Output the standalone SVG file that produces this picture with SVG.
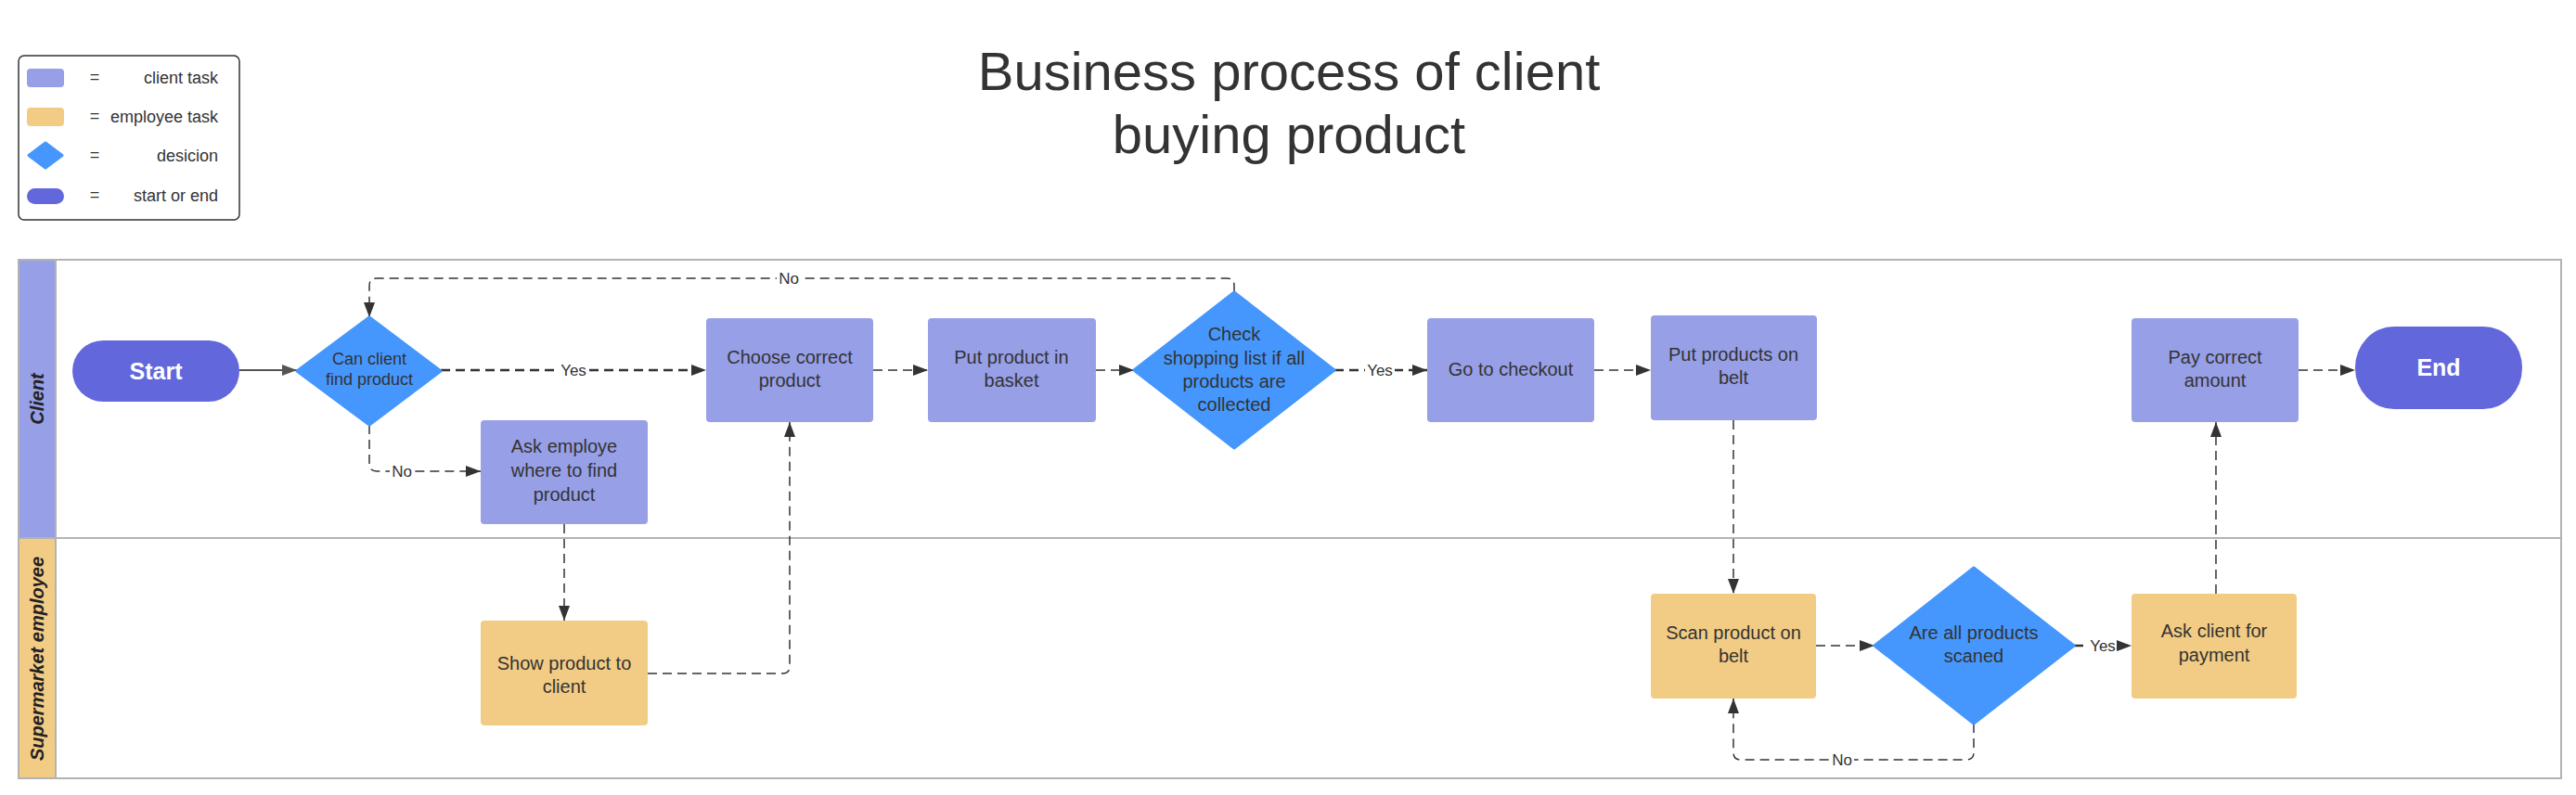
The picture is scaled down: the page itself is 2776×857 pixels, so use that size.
<svg xmlns="http://www.w3.org/2000/svg" width="2776" height="857" viewBox="0 0 2776 857">
<defs>
<style>
.t{font-family:"Liberation Sans",Arial,sans-serif;fill:#333333;}
.n{font-family:"Liberation Sans",Arial,sans-serif;fill:#333333;font-size:20px;text-anchor:middle;}
.n18{font-size:18px;}
.se{font-family:"Liberation Sans",Arial,sans-serif;fill:#ffffff;font-size:25px;font-weight:bold;text-anchor:middle;}
.lane{font-family:"Liberation Sans",Arial,sans-serif;fill:#222222;font-size:20px;font-weight:bold;font-style:italic;text-anchor:middle;}
.lbl{font-family:"Liberation Sans",Arial,sans-serif;fill:#333333;font-size:17px;text-anchor:middle;}
.ct{fill:#979FE7;}
.et{fill:#F2CC85;}
.dc{fill:#4597FD;}
.st{fill:#6268DB;}
.c{fill:none;stroke:#333333;stroke-width:1.5;stroke-dasharray:10 6;}
.cy{fill:none;stroke:#333333;stroke-width:2.5;stroke-dasharray:10 6;}
.solid{fill:none;stroke:#555555;stroke-width:2;}
.lb{fill:#ffffff;}
</style>
<marker id="ah" viewBox="0 0 16 12" refX="16" refY="6" markerWidth="16" markerHeight="12" markerUnits="userSpaceOnUse" orient="auto">
<path d="M0,0 L16,6 L0,12 Z" fill="#333333"/>
</marker>
<marker id="ahs" viewBox="0 0 16 12" refX="16" refY="6" markerWidth="16" markerHeight="12" markerUnits="userSpaceOnUse" orient="auto">
<path d="M0,0 L16,6 L0,12 Z" fill="#555555"/>
</marker>
</defs>
<rect x="0" y="0" width="2776" height="857" fill="#ffffff"/>

<g id="title">
<text class="t" x="1389" y="97" font-size="58" text-anchor="middle">Business process of client</text>
<text class="t" x="1389" y="165" font-size="58" text-anchor="middle">buying product</text>
</g>

<g id="legend">
<rect x="20" y="60" width="238" height="177" rx="6" fill="#ffffff" stroke="#333333" stroke-width="1.5"/>
<rect class="ct" x="29" y="74" width="40" height="20" rx="4"/>
<text class="t" x="102" y="89" font-size="18" text-anchor="middle">=</text>
<text class="t" x="235" y="90" font-size="18" text-anchor="end">client task</text>
<rect class="et" x="29" y="116" width="40" height="20" rx="4"/>
<text class="t" x="102" y="131" font-size="18" text-anchor="middle">=</text>
<text class="t" x="235" y="132" font-size="18" text-anchor="end">employee task</text>
<polygon class="dc" points="49,154 67,167.5 49,181 31,167.5" stroke="#4597FD" stroke-width="3" stroke-linejoin="round"/>
<text class="t" x="102" y="173" font-size="18" text-anchor="middle">=</text>
<text class="t" x="235" y="174" font-size="18" text-anchor="end">desicion</text>
<rect class="st" x="29" y="203" width="40" height="17" rx="8.5"/>
<text class="t" x="102" y="216" font-size="18" text-anchor="middle">=</text>
<text class="t" x="235" y="217" font-size="18" text-anchor="end">start or end</text>
</g>

<g id="lanes">
<rect x="20" y="280" width="2740" height="559" fill="#ffffff" stroke="#B3B3B3" stroke-width="2"/>
<rect x="20" y="280" width="40" height="300" fill="#979FE7" stroke="#B3B3B3" stroke-width="2"/>
<rect x="20" y="580" width="40" height="259" fill="#F2CC85" stroke="#B3B3B3" stroke-width="2"/>
<line x1="20" y1="580" x2="2760" y2="580" stroke="#B3B3B3" stroke-width="2"/>
<text class="lane" transform="translate(47,430) rotate(-90)">Client</text>
<text class="lane" transform="translate(47,710) rotate(-90)">Supermarket employee</text>
</g>

<g id="connectors">
<path class="solid" d="M258,399 L320,399" marker-end="url(#ahs)"/>
<path class="cy" d="M475,399 L761,399" marker-end="url(#ah)"/>
<path class="c" d="M398,458 L398,500 Q398,508 406,508 L518,508" marker-end="url(#ah)"/>
<path class="c" d="M608,565 L608,669" marker-end="url(#ah)"/>
<path class="c" d="M698,726 L843,726 Q851,726 851,718 L851,455" marker-end="url(#ah)"/>
<path class="c" d="M941,399 L1000,399" marker-end="url(#ah)"/>
<path class="c" d="M1181,399 L1222,399" marker-end="url(#ah)"/>
<path class="c" d="M1330,315 L1330,308 Q1330,300 1322,300 L406,300 Q398,300 398,308 L398,342" marker-end="url(#ah)"/>
<path class="cy" d="M1438,399 L1538,399" marker-end="url(#ah)"/>
<path class="c" d="M1718,399 L1779,399" marker-end="url(#ah)"/>
<path class="c" d="M1868,453 L1868,640" marker-end="url(#ah)"/>
<path class="c" d="M1957,696 L2020,696" marker-end="url(#ah)"/>
<path class="cy" d="M2235,696 L2297,696" marker-end="url(#ah)"/>
<path class="c" d="M2127,780 L2127,811 Q2127,819 2119,819 L1876,819 Q1868,819 1868,811 L1868,753" marker-end="url(#ah)"/>
<path class="c" d="M2388,640 L2388,455" marker-end="url(#ah)"/>
<path class="c" d="M2477,399 L2538,399" marker-end="url(#ah)"/>
<rect class="lb" x="602" y="389" width="32" height="20"/>
<text class="lbl" x="618" y="405">Yes</text>
<rect class="lb" x="420" y="498" width="26" height="20"/>
<text class="lbl" x="433" y="514">No</text>
<rect class="lb" x="837" y="290" width="26" height="20"/>
<text class="lbl" x="850" y="306">No</text>
<rect class="lb" x="1471" y="389" width="32" height="20"/>
<text class="lbl" x="1487" y="405">Yes</text>
<rect class="lb" x="2251" y="686" width="30" height="20"/>
<text class="lbl" x="2266" y="702">Yes</text>
<rect class="lb" x="1972" y="809" width="26" height="20"/>
<text class="lbl" x="1985" y="825">No</text>
</g>

<g id="start">
<rect class="st" x="78" y="367" width="180" height="66" rx="33"/>
<text class="se" x="168" y="409">Start</text>
</g>

<g id="can-client-find">
<polygon class="dc" points="398,342 475,400 398,458 320,400" stroke="#4597FD" stroke-width="3" stroke-linejoin="round"/>
<text class="n n18" x="398" y="393">Can client</text>
<text class="n n18" x="398" y="415">find product</text>
</g>

<g id="ask-employe">
<rect class="ct" x="518" y="453" width="180" height="112" rx="4"/>
<text class="n" x="608" y="488">Ask employe</text>
<text class="n" x="608" y="514">where to find</text>
<text class="n" x="608" y="540">product</text>
</g>

<g id="show-product">
<rect class="et" x="518" y="669" width="180" height="113" rx="4"/>
<text class="n" x="608" y="722">Show product to</text>
<text class="n" x="608" y="747">client</text>
</g>

<g id="choose-correct">
<rect class="ct" x="761" y="343" width="180" height="112" rx="4"/>
<text class="n" x="851" y="392">Choose correct</text>
<text class="n" x="851" y="417">product</text>
</g>

<g id="put-basket">
<rect class="ct" x="1000" y="343" width="181" height="112" rx="4"/>
<text class="n" x="1090" y="392">Put product in</text>
<text class="n" x="1090" y="417">basket</text>
</g>

<g id="check-list">
<polygon class="dc" points="1330,315 1438,399 1330,483 1222,399" stroke="#4597FD" stroke-width="3" stroke-linejoin="round"/>
<text class="n" x="1330" y="367">Check</text>
<text class="n" x="1330" y="393">shopping list if all</text>
<text class="n" x="1330" y="418">products are</text>
<text class="n" x="1330" y="443">collected</text>
</g>

<g id="go-checkout">
<rect class="ct" x="1538" y="343" width="180" height="112" rx="4"/>
<text class="n" x="1628" y="405">Go to checkout</text>
</g>

<g id="put-belt">
<rect class="ct" x="1779" y="340" width="179" height="113" rx="4"/>
<text class="n" x="1868" y="389">Put products on</text>
<text class="n" x="1868" y="414">belt</text>
</g>

<g id="scan-product">
<rect class="et" x="1779" y="640" width="178" height="113" rx="4"/>
<text class="n" x="1868" y="689">Scan product on</text>
<text class="n" x="1868" y="714">belt</text>
</g>

<g id="all-scanned">
<polygon class="dc" points="2127,612 2235,696 2127,780 2020,696" stroke="#4597FD" stroke-width="3" stroke-linejoin="round"/>
<text class="n" x="2127" y="689">Are all products</text>
<text class="n" x="2127" y="714">scaned</text>
</g>

<g id="ask-payment">
<rect class="et" x="2297" y="640" width="178" height="113" rx="4"/>
<text class="n" x="2386" y="687">Ask client for</text>
<text class="n" x="2386" y="713">payment</text>
</g>

<g id="pay-amount">
<rect class="ct" x="2297" y="343" width="180" height="112" rx="4"/>
<text class="n" x="2387" y="392">Pay correct</text>
<text class="n" x="2387" y="417">amount</text>
</g>

<g id="end">
<rect class="st" x="2538" y="352" width="180" height="89" rx="42" ry="44"/>
<text class="se" x="2628" y="405">End</text>
</g>
</svg>
